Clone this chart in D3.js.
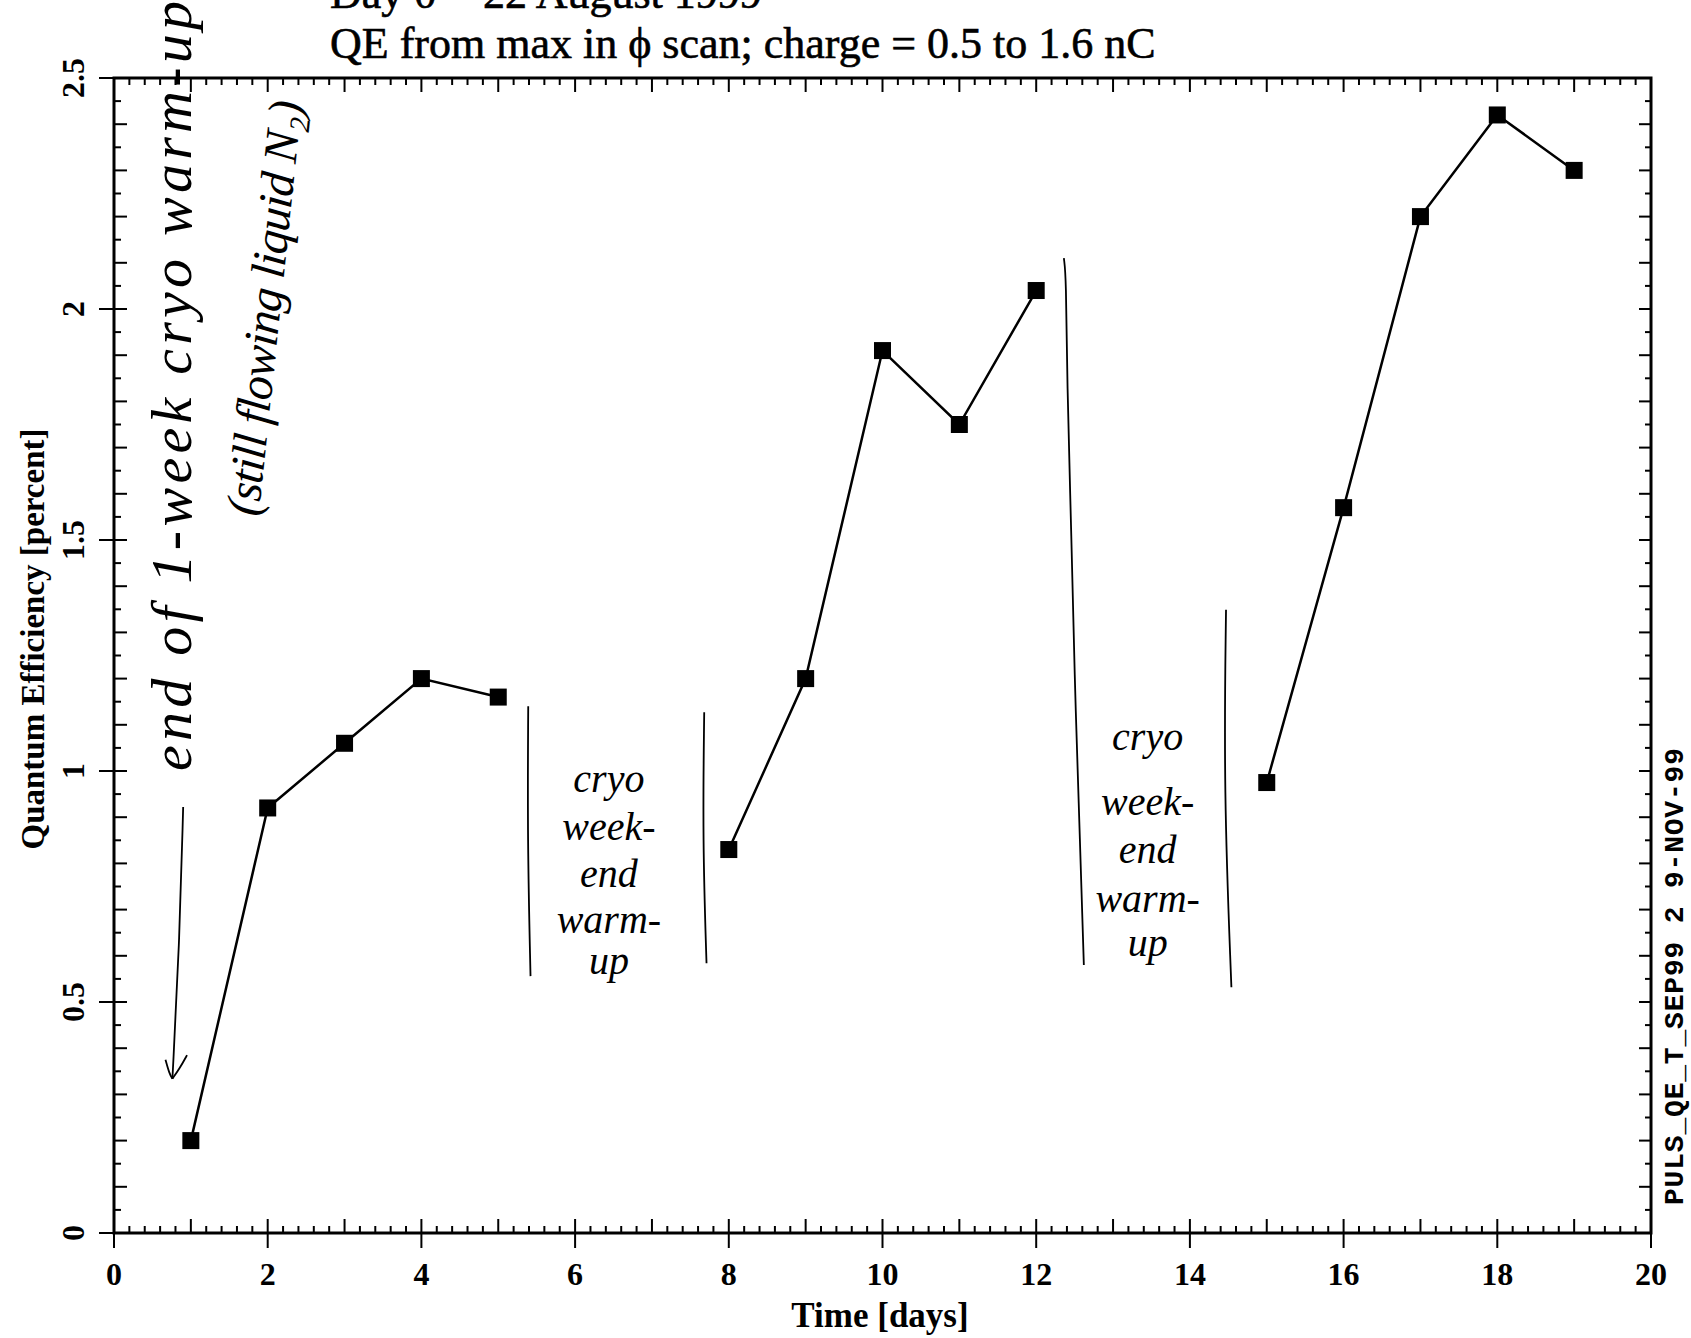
<!DOCTYPE html>
<html>
<head>
<meta charset="utf-8">
<script src="https://cdn.jsdelivr.net/npm/d3@7"></script>
<style>
body { margin: 0; background: #fff; }
</style>
</head>
<body>
<svg id="chart"></svg>
<script>
// measured QE values, one point per day
var days = [1, 2, 3, 4, 5, 8, 9, 10, 11, 12, 15, 16, 17, 18, 19];
var qe = [0.20, 0.92, 1.06, 1.20, 1.16, 0.83, 1.20, 1.91, 1.75, 2.04, 0.975, 1.57, 2.20, 2.42, 2.30];
var runs = [1, 1, 1, 1, 1, 2, 2, 2, 2, 2, 3, 3, 3, 3, 3];

var xTickValues = [0, 2, 4, 6, 8, 10, 12, 14, 16, 18, 20];
var xTickLabels = ["0", "2", "4", "6", "8", "10", "12", "14", "16", "18", "20"];
var yTickValues = [0, 0.5, 1, 1.5, 2, 2.5];
var yTickLabels = ["0", "0.5", "1", "1.5", "2", "2.5"];

var titleLines = ["Day 0 = 22 August 1999", "QE from max in \u03D5 scan; charge = 0.5 to 1.6 nC"];
var stamp = "PULS_QE_T_SEP99 2 9-NOV-99";

var width = 1691, height = 1338;
var mLeft = 114, mRight = 1651, mTop = 78, mBottom = 1233;

var svg = d3.select("#chart")
    .attr("width", width)
    .attr("height", height);

var x = d3.scaleLinear().domain([0, 20]).range([mLeft, mRight]);
var y = d3.scaleLinear().domain([0, 2.5]).range([mBottom, mTop]);

var points = days.map(function(d, i) {
    return {day: d, qe: qe[i], run: runs[i]};
});

// ---- ticks ----
var ticks = svg.append("g").attr("stroke", "#000").attr("stroke-width", 2);

var xMinor = d3.range(0, 20.01, 0.2).map(function(v) { return Math.round(v * 10) / 10; });
xMinor.forEach(function(v) {
    var isInt = Math.abs(v - Math.round(v)) < 1e-6;
    var isMajor = isInt && Math.round(v) % 2 === 0;
    var len = isInt ? 14 : 7;
    // bottom
    ticks.append("line")
        .attr("x1", x(v)).attr("x2", x(v))
        .attr("y1", y(0) + (isMajor ? 15 : 0)).attr("y2", y(0) - len);
    // top
    ticks.append("line")
        .attr("x1", x(v)).attr("x2", x(v))
        .attr("y1", y(2.5)).attr("y2", y(2.5) + len);
});

var yMinor = d3.range(0, 2.501, 0.05).map(function(v) { return Math.round(v * 100) / 100; });
yMinor.forEach(function(v) {
    var tenth = Math.abs(v * 10 - Math.round(v * 10)) < 1e-6;
    var isMajor = Math.abs(v * 2 - Math.round(v * 2)) < 1e-6;
    var len = tenth ? 13 : 7;
    ticks.append("line")
        .attr("x1", x(0) - (isMajor ? 15 : 0)).attr("x2", x(0) + len)
        .attr("y1", y(v)).attr("y2", y(v));
    ticks.append("line")
        .attr("x1", x(20)).attr("x2", x(20) - (tenth ? 12 : 6))
        .attr("y1", y(v)).attr("y2", y(v));
});

// frame
svg.append("rect")
    .attr("x", x(0)).attr("y", y(2.5))
    .attr("width", x(20) - x(0)).attr("height", y(0) - y(2.5))
    .attr("fill", "none").attr("stroke", "#000").attr("stroke-width", 3);

// ---- tick labels ----
svg.append("g").selectAll("text")
    .data(xTickValues)
    .enter().append("text")
    .attr("x", function(d) { return x(d); })
    .attr("y", 1285)
    .attr("text-anchor", "middle")
    .attr("font-family", "Liberation Serif")
    .attr("font-weight", "bold")
    .attr("font-size", 32)
    .text(function(d, i) { return xTickLabels[i]; });

svg.append("g").selectAll("text")
    .data(yTickValues)
    .enter().append("text")
    .attr("transform", function(d) { return "translate(73," + y(d) + ") rotate(-90)"; })
    .attr("dy", "0.34em")
    .attr("text-anchor", "middle")
    .attr("font-family", "Liberation Serif")
    .attr("font-weight", "bold")
    .attr("font-size", 32)
    .text(function(d, i) { return yTickLabels[i]; });

// ---- axis titles ----
svg.append("text")
    .attr("x", 880).attr("y", 1327)
    .attr("text-anchor", "middle")
    .attr("font-family", "Liberation Serif")
    .attr("font-weight", "bold")
    .attr("font-size", 35)
    .text("Time [days]");

svg.append("text")
    .attr("transform", "translate(44,639) rotate(-90)")
    .attr("text-anchor", "middle")
    .attr("font-family", "Liberation Serif")
    .attr("font-weight", "bold")
    .attr("font-size", 33)
    .text("Quantum Efficiency [percent]");

svg.selectAll(".title")
    .data(titleLines)
    .enter().append("text")
    .attr("class", "title")
    .attr("x", 330)
    .attr("y", function(d, i) { return 8 + i * 50; })
    .attr("font-family", "Liberation Serif")
    .attr("font-size", 44)
    .attr("stroke", "#000").attr("stroke-width", 0.6)
    .text(function(d) { return d; });

svg.append("text")
    .attr("transform", "translate(1683,1205) rotate(-90)")
    .attr("font-family", "Liberation Mono")
    .attr("font-weight", "bold")
    .attr("font-size", 28)
    .attr("textLength", 457)
    .attr("lengthAdjust", "spacing")
    .text(stamp);

// ---- data ----
var line = d3.line()
    .x(function(d) { return x(d.day); })
    .y(function(d) { return y(d.qe); });

var groups = d3.groups(points, function(d) { return d.run; });

svg.append("g").selectAll("path")
    .data(groups)
    .enter().append("path")
    .attr("d", function(g) { return line(g[1]); })
    .attr("fill", "none")
    .attr("stroke", "#000")
    .attr("stroke-width", 2.5);

var sq = 17;
svg.append("g").selectAll("rect")
    .data(points)
    .enter().append("rect")
    .attr("x", function(d) { return x(d.day) - sq / 2; })
    .attr("y", function(d) { return y(d.qe) - sq / 2; })
    .attr("width", sq).attr("height", sq)
    .attr("fill", "#000");

// ---- handwritten notes ----
var hand = svg.append("g")
    .attr("font-family", "Liberation Serif")
    .attr("font-style", "italic");

var pen = d3.line()
    .x(function(d) { return x(d[0]); })
    .y(function(d) { return y(d[1]); })
    .curve(d3.curveBasis);

var strokes = [
    [[5.39, 1.14], [5.38, 0.85], [5.42, 0.556]],
    [[7.68, 1.127], [7.66, 0.85], [7.71, 0.584]],
    [[12.36, 2.11], [12.39, 2.07], [12.40, 1.85], [12.46, 1.50], [12.50, 1.20], [12.55, 0.95], [12.62, 0.58]],
    [[14.47, 1.349], [14.44, 0.96], [14.54, 0.532]],
    [[0.90, 0.922], [0.85, 0.62], [0.76, 0.334]],
    [[0.67, 0.375], [0.72, 0.345], [0.76, 0.334]],
    [[0.95, 0.385], [0.85, 0.355], [0.76, 0.334]]
];

hand.selectAll("path")
    .data(strokes)
    .enter().append("path")
    .attr("d", pen)
    .attr("fill", "none")
    .attr("stroke", "#000")
    .attr("stroke-width", 1.8);

var notes = [
    {words: ["cryo", "week-", "end", "warm-", "up"], day: 6.44, levels: [0.955, 0.85, 0.75, 0.65, 0.56]},
    {words: ["cryo", "week-", "end", "warm-", "up"], day: 13.45, levels: [1.045, 0.905, 0.80, 0.695, 0.60]}
];

notes.forEach(function(n) {
    hand.selectAll(null)
        .data(n.words)
        .enter().append("text")
        .attr("x", x(n.day))
        .attr("y", function(d, i) { return y(n.levels[i]); })
        .attr("text-anchor", "middle")
        .attr("font-size", 40)
        .text(function(d) { return d; });
});

hand.append("text")
    .attr("transform", "translate(" + x(1.0) + "," + y(1.0) + ") rotate(-90)")
    .attr("font-size", 58)
    .attr("textLength", 770)
    .attr("lengthAdjust", "spacing")
    .text("end of 1-week cryo warm-up");

hand.append("text")
    .attr("transform", "translate(" + x(1.88) + "," + y(1.55) + ") rotate(-84)")
    .attr("font-size", 48)
    .attr("textLength", 417)
    .attr("lengthAdjust", "spacing")
    .text("(still flowing liquid N\u2082)");
</script>
</body>
</html>
